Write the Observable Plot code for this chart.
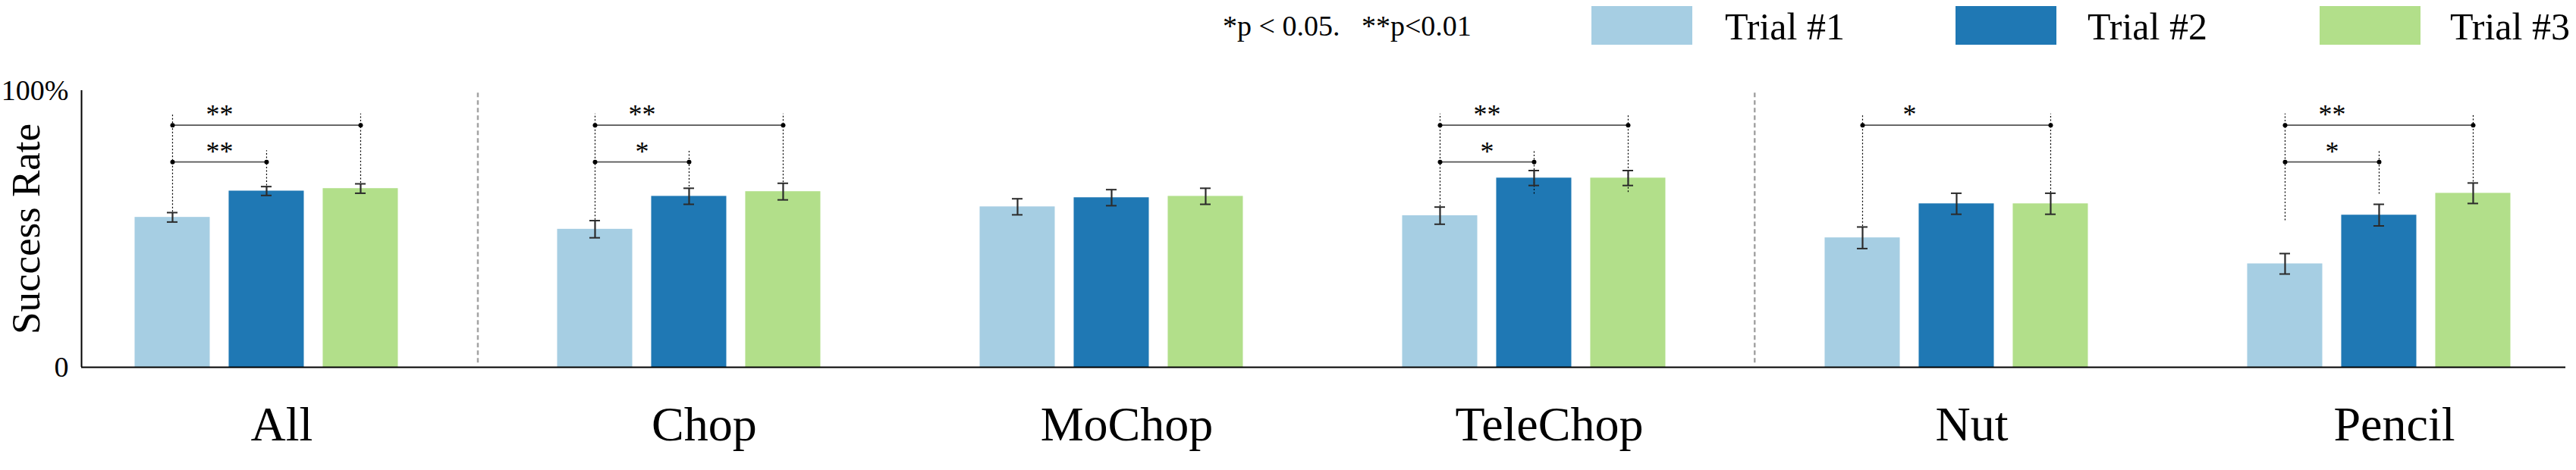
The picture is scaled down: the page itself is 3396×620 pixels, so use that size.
<!DOCTYPE html>
<html>
<head>
<meta charset="utf-8">
<script src="https://cdn.jsdelivr.net/npm/d3@7"></script>
<script src="https://cdn.jsdelivr.net/npm/@observablehq/plot@0.6"></script>
<style>
  body { margin: 0; background: #fff; }
  #legend { position: relative; width: 3396px; height: 70px; font-family: "Liberation Serif", "DejaVu Serif", serif; color: #000; }
  #legend .sw { position: absolute; top: 8px; width: 133px; height: 51px; }
  #legend .lab { position: absolute; top: 10px; font-size: 50px; line-height: 50px; white-space: pre; }
  #legend .pv { position: absolute; top: 15px; left: 1612px; font-size: 38px; line-height: 38px; white-space: pre; }
</style>
</head>
<body>
<div id="legend"></div>
<div id="chart"></div>
<script>
// ---- data ----
const groups = ["All", "Chop", "MoChop", "TeleChop", "Nut", "Pencil"];
const trials = ["Trial #1", "Trial #2", "Trial #3"];
const colors = ["#a6cee3", "#1f78b4", "#b2df8a"];

const trial1 = [54.2, 49.9, 58.0, 54.8, 46.8, 37.4];
const trial2 = [63.7, 61.8, 61.3, 68.4, 59.1, 55.0];
const trial3 = [64.6, 63.5, 61.8, 68.4, 59.1, 62.9];
const err1 = [1.7, 3.1, 2.9, 3.1, 3.9, 3.7];
const err2 = [1.6, 2.9, 2.9, 2.7, 3.8, 3.9];
const err3 = [1.7, 3.0, 2.9, 2.7, 3.8, 3.7];

// significance brackets: [group, fromTrial, toTrial, level (0 upper / 1 lower), label]
const bracketLevels = [87.5, 74.2];
const brackets = [
  ["All", 1, 3, 0, "**"], ["All", 1, 2, 1, "**"],
  ["Chop", 1, 3, 0, "**"], ["Chop", 1, 2, 1, "*"],
  ["TeleChop", 1, 3, 0, "**"], ["TeleChop", 1, 2, 1, "*"],
  ["Nut", 1, 3, 0, "*"],
  ["Pencil", 1, 3, 0, "**"], ["Pencil", 1, 2, 1, "*"]
];
// lower end of the dotted guide lines for each trial (null = none)
const guideBottom1 = [56.1, 53.2, null, 58.1, 50.9, 53.0];
const guideBottom2 = [65.6, 65.2, null, 62.6, null, 62.6];
const guideBottom3 = [66.6, 66.8, null, 63.2, 63.0, 67.0];
// dashed separators placed after these groups
const separatorsAfter = [0, 3];
const yTicks = [0, 100];
const yTickLabels = ["0", "100%"];

// ---- layout ----
const W = 3396, H = 550;
const STEP = 0.2226, HW = 0.0889, CAP = 0.0126;
const off = k => (k - 1) * STEP;

const values = [trial1, trial2, trial3];
const errors = [err1, err2, err3];
const guides = [guideBottom1, guideBottom2, guideBottom3];

const rows = [];
groups.forEach((g, i) => trials.forEach((t, k) => rows.push({
  group: g, gi: i, trial: t, k, value: values[k][i], err: errors[k][i]
})));
const xc = d => d.gi + off(d.k);

const br = brackets.map(([g, a, b, lv, lab]) => ({
  gi: groups.indexOf(g), a: a - 1, b: b - 1, y: bracketLevels[lv], label: lab
}));
const brEnds = br.flatMap(d => [{x: d.gi + off(d.a), y: d.y}, {x: d.gi + off(d.b), y: d.y}]);

const guideRows = [];
groups.forEach((g, i) => [0, 1, 2].forEach(k => {
  const bottom = guides[k][i];
  if (bottom == null) return;
  const tops = br.filter(d => d.gi === i && (d.a === k || d.b === k)).map(d => d.y + 4.1);
  guideRows.push({x: i + off(k), y1: bottom, y2: d3.max(tops)});
}));

const seps = separatorsAfter.map(i => i + 0.5 + (i === 3 ? 0.022 : 0));

// ---- legend ----
const leg = document.getElementById("legend");
const pv = document.createElement("div");
pv.className = "pv";
pv.textContent = "*p < 0.05.   **p<0.01";
leg.appendChild(pv);
trials.forEach((t, k) => {
  const sw = document.createElement("div");
  sw.className = "sw";
  sw.style.left = (2098 + 480 * k) + "px";
  sw.style.background = colors[k];
  leg.appendChild(sw);
  const lab = document.createElement("div");
  lab.className = "lab";
  lab.style.left = (2274 + 478 * k) + "px";
  lab.textContent = t;
  leg.appendChild(lab);
});

// ---- chart ----
const chart = Plot.plot({
  width: W,
  height: H,
  marginLeft: 107,
  marginRight: 14,
  marginTop: 49,
  marginBottom: 136,
  x: {type: "linear", domain: [-0.438, 5.4417], axis: null},
  y: {domain: [0, 100], axis: null},
  color: {domain: trials, range: colors},
  style: {fontFamily: "'Liberation Serif', 'DejaVu Serif', serif", background: "#fff", color: "#000"},
  marks: [
    Plot.ruleX(seps, {x: d => d, y1: 1.6, y2: 100, stroke: "#a3a3a3", strokeWidth: 2.5, strokeDasharray: "6,4"}),
    Plot.rectY(rows, {x1: d => xc(d) - HW, x2: d => xc(d) + HW, y1: 0, y2: "value", fill: "trial"}),
    Plot.ruleX(guideRows, {x: "x", y1: "y1", y2: "y2", stroke: "#000", strokeWidth: 1.2, strokeDasharray: "2,2.5"}),
    Plot.ruleX(rows, {x: xc, y1: d => d.value - d.err, y2: d => d.value + d.err, stroke: "#2b2b2b", strokeWidth: 2.2}),
    Plot.ruleY(rows, {y: d => d.value + d.err, x1: d => xc(d) - CAP, x2: d => xc(d) + CAP, stroke: "#2b2b2b", strokeWidth: 2}),
    Plot.ruleY(rows, {y: d => d.value - d.err, x1: d => xc(d) - CAP, x2: d => xc(d) + CAP, stroke: "#2b2b2b", strokeWidth: 2}),
    Plot.ruleY(br, {y: "y", x1: d => d.gi + off(d.a), x2: d => d.gi + off(d.b), stroke: "#555", strokeWidth: 1.8}),
    Plot.dot(brEnds, {x: "x", y: "y", r: 3, fill: "#000"}),
    Plot.text(br, {x: d => d.gi + off(d.a) + STEP / 2, y: "y", text: "label", lineAnchor: "bottom", dy: -2, fontSize: 36, fill: "#000"}),
    Plot.ruleX([-0.438], {y1: 0, y2: 100, stroke: "#000", strokeWidth: 2}),
    Plot.ruleY([0], {stroke: "#000", strokeWidth: 2}),
    Plot.axisY({ticks: yTicks, tickFormat: d => yTickLabels[yTicks.indexOf(d)], tickSize: 0, tickPadding: 17, fontSize: 38, label: null}),
    Plot.text(["Success Rate"], {frameAnchor: "left", dx: -72, rotate: -90, textAnchor: "middle", lineAnchor: "middle", fontSize: 53, fill: "#000"}),
    Plot.text(groups, {x: (d, i) => i, frameAnchor: "bottom", lineAnchor: "bottom", dy: 96, dx: 20, fontSize: 64, fill: "#000"})
  ]
});
document.getElementById("chart").appendChild(chart);
</script>
</body>
</html>
